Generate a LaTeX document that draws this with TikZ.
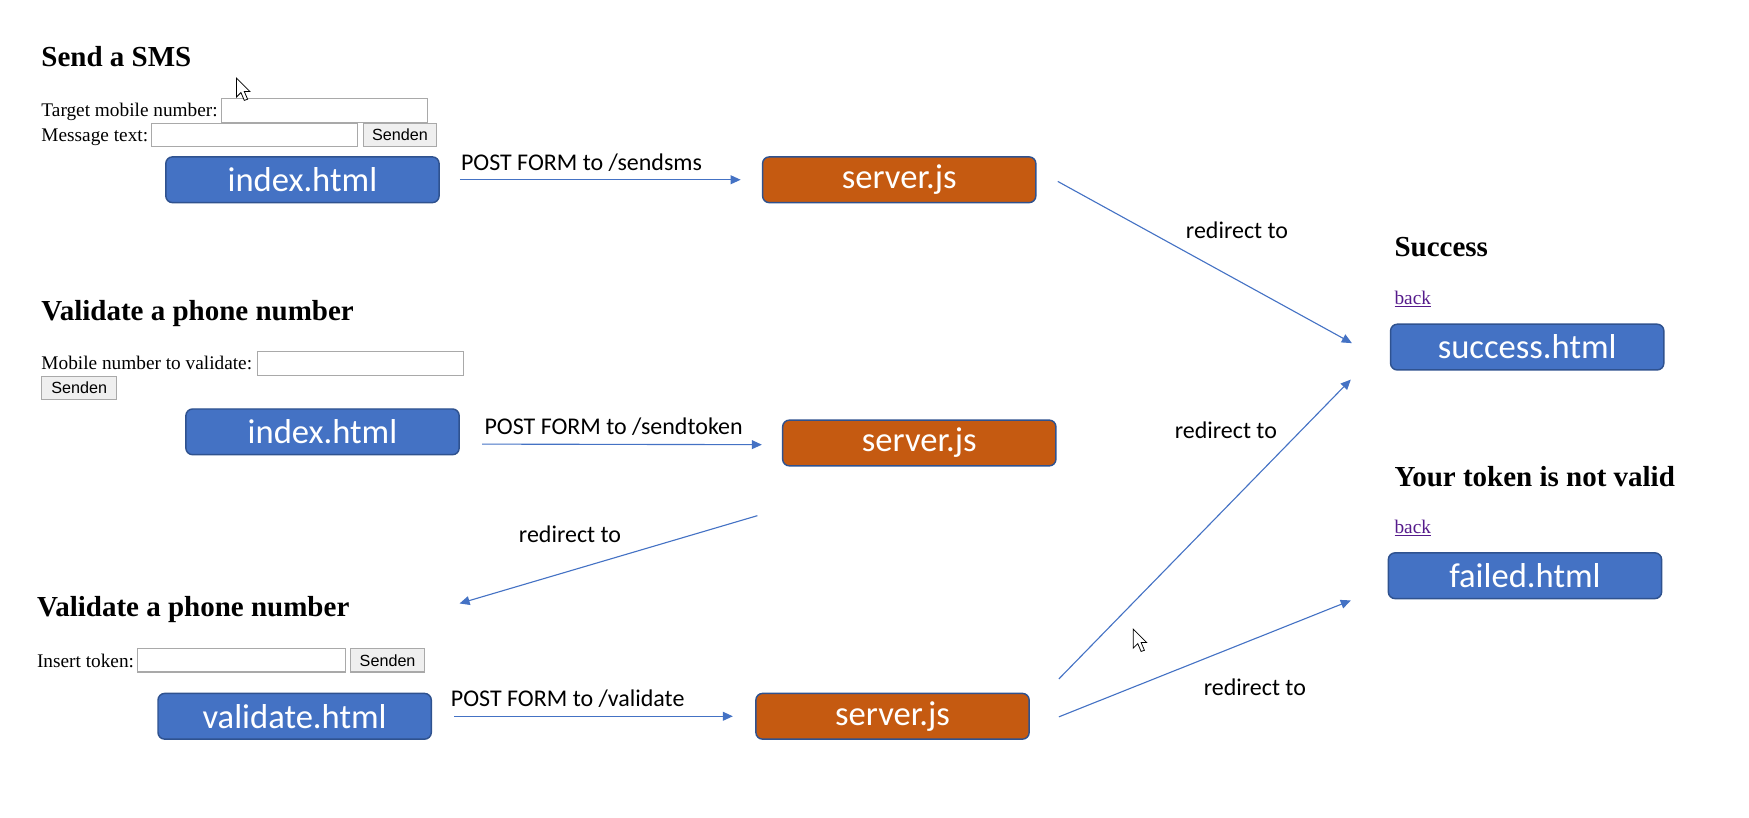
\documentclass[tikz,border=0pt]{standalone}
\usepackage{fontspec}
\setmainfont{Liberation Serif}
\newfontfamily\calfont{Carlito}
\newfontfamily\arialfont{Liberation Sans}
\usetikzlibrary{arrows.meta,calc}
\definecolor{boxblue}{HTML}{4472C4}
\definecolor{boxedge}{HTML}{2F528F}
\definecolor{boxorange}{HTML}{C55A11}
\definecolor{linkpurple}{HTML}{551A8B}
\definecolor{fieldgray}{HTML}{A9A9A9}
\definecolor{btnfill}{HTML}{EFEFEF}
\tikzset{
  pagebox/.style={draw=boxedge, line width=1.3pt, fill=boxblue, rounded corners=6pt,
    minimum width=245pt, minimum height=41pt, anchor=north west, inner sep=0pt,
    text=white, font=\calfont\fontsize{31}{31}\selectfont},
  serverbox/.style={pagebox, fill=boxorange},
  heading/.style={anchor=base west, inner sep=0pt, font=\fontsize{26}{26}\selectfont\bfseries},
  bodytext/.style={anchor=base west, inner sep=0pt, font=\fontsize{17.3}{17.3}\selectfont},
  linktext/.style={anchor=base west, inner sep=0pt, text=linkpurple, font=\fontsize{17.3}{17.3}\selectfont},
  field/.style={draw=fieldgray, line width=1pt, fill=white, anchor=north west, inner sep=0pt, minimum height=21pt},
  button/.style={draw=fieldgray, line width=1pt, fill=btnfill, anchor=north west, inner sep=0pt,
    minimum width=66pt, minimum height=21pt, font=\arialfont\fontsize{14.5}{14.5}\selectfont},
  flow/.style={draw=boxblue, line width=1pt, -{Triangle[length=9pt,width=8pt]}},
  flowlabel/.style={inner sep=0pt, font=\calfont\fontsize{21.5}{21.5}\selectfont},
  cursor/.style={draw=black, fill=white, line width=0.7pt, line join=miter}
}
\begin{document}
\begin{tikzpicture}[x=1pt, y=-1pt]
\useasboundingbox (0,0) rectangle (1568,733);

% ---------- Section 1 ----------
\node[heading] (h1) at (37,60) {Send a SMS};
\node[bodytext] (t1a) at (37,104) {Target mobile number:};
\node[field, minimum width=185pt] (f1a) at (198,88) {};
\node[bodytext] (t1b) at (37,127) {Message text:};
\node[field, minimum width=185pt] (f1b) at (135,110) {};
\node[button] (b1) at (325,110) {Senden};
\node[pagebox] (idx1) at (148,140) {index.html};
\node[serverbox] (srv1) at (683,140) {server.js};

% ---------- Section 2 ----------
\node[heading] (h2) at (37,287) {Validate a phone number};
\node[bodytext] (t2a) at (37,331) {Mobile number to validate:};
\node[field, minimum width=185pt] (f2a) at (230,315) {};
\node[button, minimum width=67pt] (b2) at (37,337) {Senden};
\node[pagebox] (idx2) at (166,366) {index.html};
\node[serverbox] (srv2) at (701,376) {server.js};

% ---------- Section 3 ----------
\node[heading] (h3) at (33,553) {Validate a phone number};
\node[bodytext] (t3a) at (33,598) {Insert token:};
\node[field, minimum width=186pt] (f3a) at (123,581) {};
\node[button] (b3) at (314,581) {Senden};
\node[pagebox] (val) at (141,621) {validate.html};
\node[serverbox] (srv3) at (677,621) {server.js};

% ---------- Right column ----------
\node[heading] (h4) at (1250,230) {Success};
\node[linktext] (l4) at (1250,273) {\underline{back}};
\node[pagebox] (succ) at (1246,290) {success.html};
\node[heading] (h5) at (1250,436) {Your token is not valid};
\node[linktext] (l5) at (1250,478) {\underline{back}};
\node[pagebox] (fail) at (1244,495) {failed.html};

% ---------- connector end points ----------
\coordinate (s1out) at ($(srv1.east)+(19,1.5)$);
\coordinate (succin1) at ($(succ.west)+(-34,-3.5)$);
\coordinate (i2out) at ($(idx2.east)+(20,11)$);
\coordinate (s2in) at ($(srv2.west)+(-18,1.5)$);
\coordinate (s2out) at ($(srv2.south west)+(-22,44)$);
\coordinate (h3in) at ($(h3.base west)+(379,-12)$);
\coordinate (s3outa) at ($(srv3.east)+(26,-33.5)$);
\coordinate (succin2) at ($(succ.south west)+(-35,8)$);
\coordinate (s3outb) at ($(srv3.east)+(26,0.5)$);
\coordinate (failin) at ($(fail.south west)+(-33,1)$);

% ---------- connectors ----------
\draw[flow, shorten <=18pt, shorten >=19pt] (idx1.east) -- (srv1.west)
  node[flowlabel, pos=0.44, above=7pt] (lab1) {POST FORM to /sendsms};
\draw[flow] (s1out) -- (succin1);
\node[flowlabel] (lab2) at (1109,206) {redirect to};

\draw[flow] (i2out) -- (s2in)
  node[flowlabel, pos=0.47, above=7pt] (lab3) {POST FORM to /sendtoken};
\draw[flow] (s2out) -- (h3in);
\node[flowlabel] (lab4) at (511,479) {redirect to};

\draw[flow, shorten <=20pt, shorten >=20pt] (val.east) -- (srv3.west)
  node[flowlabel, pos=0.42, above=7pt] (lab5) {POST FORM to /validate};
\draw[flow] (s3outa) -- (succin2);
\node[flowlabel] (lab6) at (1099,386) {redirect to};
\draw[flow] (s3outb) -- (failin);
\node[flowlabel] (lab7) at (1125,616) {redirect to};

% ---------- mouse pointers ----------
\draw[cursor] (212,70) -- (212,87) -- (216,83) -- (219,90) -- (222,89) -- (219,82) -- (224,82) -- cycle;
\draw[cursor] (1016,564) -- (1016,581) -- (1020,577) -- (1023,584) -- (1026,583) -- (1023,576) -- (1028,576) -- cycle;
\end{tikzpicture}
\end{document}
